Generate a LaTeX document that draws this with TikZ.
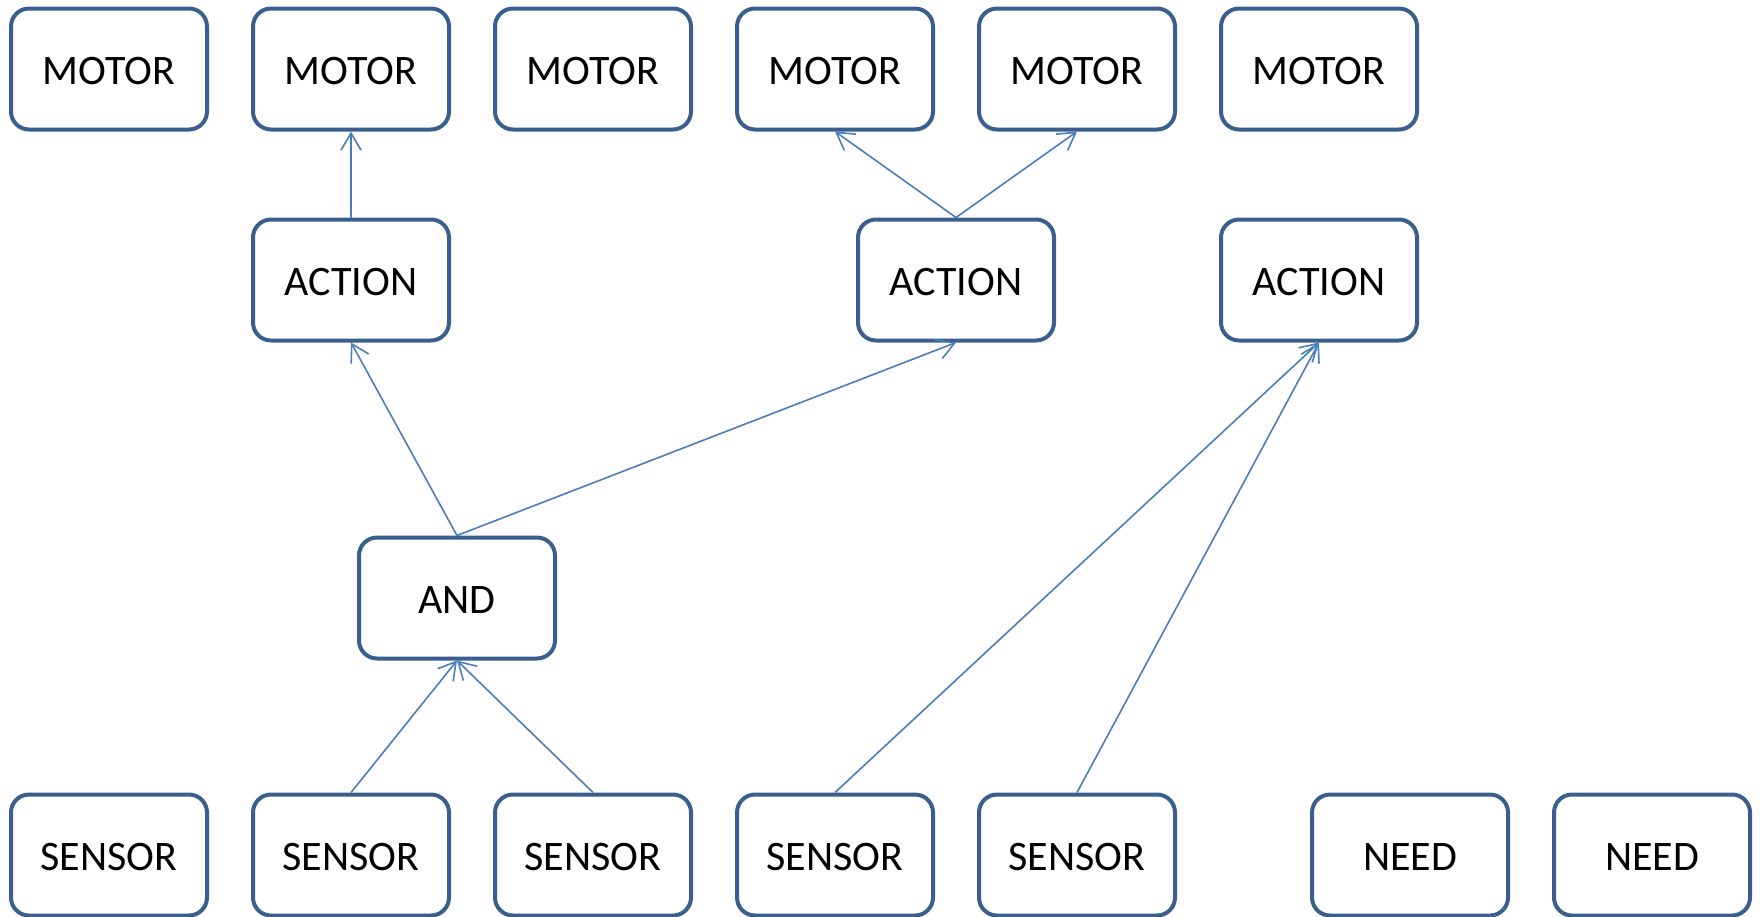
\documentclass[tikz,border=0pt]{standalone}
\usepackage{fontspec}
\setmainfont{Carlito}
\usetikzlibrary{arrows.meta}
\definecolor{boxline}{HTML}{3A5F8E}
\definecolor{wire}{HTML}{4A7EBB}
\tikzset{
  unit/.style={draw=boxline, line width=2pt, rounded corners=9pt, fill=white,
    minimum width=98pt, minimum height=60.5pt, inner sep=0pt,
    text height=15pt, text depth=0pt,
    font=\fontsize{21pt}{25pt}\selectfont},
  link/.style={draw=wire, line width=0.8pt,
    -{Straight Barb[length=8.5pt,width=10pt,line width=0.8pt]}}
}
\begin{document}
\begin{tikzpicture}[x=0.5pt,y=-0.5pt]
\useasboundingbox (0,0) rectangle (1760,916);
% motor row
\node[unit] (m1) at (109,69) {MOTOR};
\node[unit] (m2) at (351,69) {MOTOR};
\node[unit] (m3) at (593,69) {MOTOR};
\node[unit] (m4) at (835,69) {MOTOR};
\node[unit] (m5) at (1077,69) {MOTOR};
\node[unit] (m6) at (1319,69) {MOTOR};
% actions
\node[unit] (a1) at (351,280) {ACTION};
\node[unit] (a2) at (956,280) {ACTION};
\node[unit] (a3) at (1319,280) {ACTION};
% conjunction
\node[unit] (and) at (457,598) {AND};
% sensor and need row
\node[unit] (s1) at (109,855) {SENSOR};
\node[unit] (s2) at (351,855) {SENSOR};
\node[unit] (s3) at (593,855) {SENSOR};
\node[unit] (s4) at (835,855) {SENSOR};
\node[unit] (s5) at (1077,855) {SENSOR};
\node[unit] (n1) at (1410,855) {NEED};
\node[unit] (n2) at (1652,855) {NEED};
% connections
\draw[link] (a1.north) -- (m2.south);
\draw[link] (a2.north) -- (m4.south);
\draw[link] (a2.north) -- (m5.south);
\draw[link] (and.north) -- (a1.south);
\draw[link] (and.north) -- (a2.south);
\draw[link] (s2.north) -- (and.south);
\draw[link] (s3.north) -- (and.south);
\draw[link] (s4.north) -- (a3.south);
\draw[link] (s5.north) -- (a3.south);
\end{tikzpicture}
\end{document}
